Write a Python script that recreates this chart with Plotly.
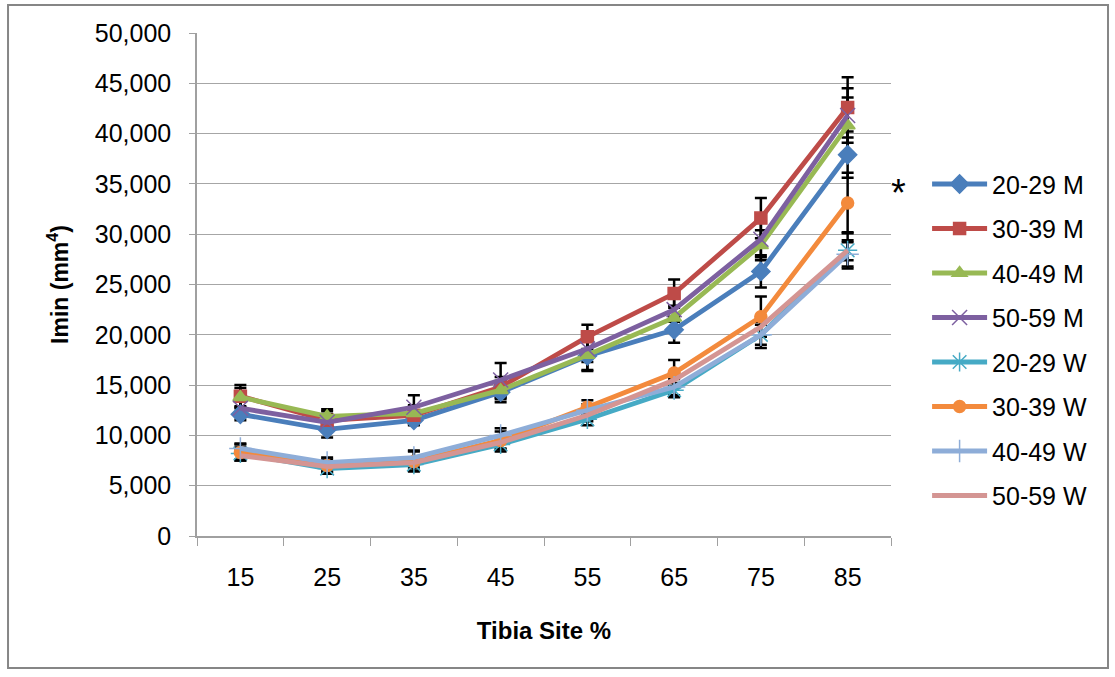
import plotly.graph_objects as go

# Tibia cross-section sites (% of tibia length)
sites = ["15", "25", "35", "45", "55", "65", "75", "85"]

# Imin (mm^4) by age group and sex
m_20_29 = [12100, 10600, 11500, 14300, 17900, 20500, 26300, 37900]
m_30_39 = [13900, 11500, 12000, 14800, 19800, 24100, 31600, 42600]
m_40_49 = [13800, 11900, 12200, 14500, 18000, 21700, 28900, 40800]
m_50_59 = [12700, 11300, 12800, 15500, 18600, 22500, 29500, 41800]
w_20_29 = [8200, 6700, 7100, 9100, 11600, 14500, 20000, 28400]
w_30_39 = [8300, 7000, 7400, 9500, 12800, 16200, 21800, 33100]
w_40_49 = [8700, 7300, 7800, 10000, 12500, 14800, 20000, 28000]
w_50_59 = [8000, 6900, 7300, 9300, 12000, 15500, 20800, 28400]

# Standard deviations shown as error bars
e_m_20_29 = [600, 800, 500, 1000, 1500, 1300, 1600, 2300]
e_m_30_39 = [1100, 900, 900, 1000, 1200, 1400, 2000, 3000]
e_m_40_49 = [900, 700, 800, 900, 1500, 1200, 1500, 2800]
e_m_50_59 = [900, 800, 1200, 1700, 1300, 1200, 1800, 2700]
e_w_20_29 = [600, 500, 600, 700, 600, 700, 1300, 1800]
e_w_30_39 = [800, 600, 1000, 900, 700, 1300, 2000, 3000]
e_w_40_49 = [500, 500, 700, 700, 600, 800, 1000, 1200]
e_w_50_59 = [500, 500, 500, 600, 600, 700, 1000, 1000]

names = ["20-29 M", "30-39 M", "40-49 M", "50-59 M",
         "20-29 W", "30-39 W", "40-49 W", "50-59 W"]
values = [m_20_29, m_30_39, m_40_49, m_50_59, w_20_29, w_30_39, w_40_49, w_50_59]
errors = [e_m_20_29, e_m_30_39, e_m_40_49, e_m_50_59,
          e_w_20_29, e_w_30_39, e_w_40_49, e_w_50_59]

colors = ["#4A7EBB", "#BE4B48", "#98B954", "#7D60A0",
          "#46AAC5", "#F38A3C", "#8EADD8", "#D49593"]
markers = [
    dict(symbol="diamond", size=14),
    dict(symbol="square", size=12),
    dict(symbol="triangle-up", size=13),
    dict(symbol="x-thin-open", size=15),
    dict(symbol="asterisk-open", size=16),
    dict(symbol="circle", size=12),
    dict(symbol="cross-thin-open", size=16),
    None,
]

FONT = "Liberation Sans, Arial, sans-serif"

fig = go.Figure()

# Error bars first so the series lines sit on top of them
for vals, errs in zip(values, errors):
    fig.add_trace(go.Scatter(
        x=sites, y=vals, mode="markers",
        marker=dict(size=1, color="rgba(0,0,0,0)"),
        error_y=dict(type="data", array=errs, visible=True,
                     color="#000000", thickness=2.5, width=6),
        showlegend=False, hoverinfo="skip",
    ))

for i, (name, vals, col, mk) in enumerate(zip(names, values, colors, markers)):
    if mk is None:
        mode = "lines"
        marker = None
    else:
        mode = "lines+markers"
        marker = dict(symbol=mk["symbol"], size=mk["size"], color=col,
                      line=dict(width=1.5, color=col))
    fig.add_trace(go.Scatter(
        x=sites, y=vals, name=name, mode=mode,
        line=dict(color=col, width=4.8),
        marker=marker,
        legendgroup=name,
    ))

fig.add_annotation(
    x=1.0, xref="paper", xanchor="left", xshift=-2,
    y=35000, yref="y", yanchor="middle", yshift=-9,
    text="*", showarrow=False,
    font=dict(family=FONT, size=38, color="#000000"),
)

# Outer chart border
fig.add_shape(
    type="rect", xref="paper", yref="paper",
    x0=-0.2723, x1=1.3127, y0=-0.2624, y1=1.0557,
    line=dict(color="#868686", width=2),
    fillcolor="rgba(0,0,0,0)", layer="below",
)

fig.update_layout(
    width=1115, height=677,
    margin=dict(l=197, r=224, t=33, b=141),
    paper_bgcolor="white", plot_bgcolor="white",
    font=dict(family=FONT, color="#000000"),
    showlegend=True,
    legend=dict(
        x=1.052, xanchor="left", y=0.745, yanchor="top",
        font=dict(family=FONT, size=25, color="#000000"),
        tracegroupgap=9, itemwidth=55,
        bgcolor="rgba(0,0,0,0)",
    ),
    xaxis=dict(
        type="category", categoryorder="array", categoryarray=sites,
        range=[-0.5, 7.5],
        showgrid=False, showline=True, linecolor="#A0A0A0", linewidth=1.5,
        ticks="outside", tickson="boundaries", ticklen=8, tickcolor="#A0A0A0",
        tickfont=dict(family=FONT, size=25, color="#000000"),
        ticklabelstandoff=18,
        title=dict(text="<b>Tibia Site %</b>", standoff=32,
                   font=dict(family=FONT, size=24, color="#000000")),
        zeroline=False, automargin=False,
    ),
    yaxis=dict(
        range=[0, 50000], dtick=5000, tickformat=",",
        showgrid=True, gridcolor="#A6A6A6", gridwidth=1.2,
        showline=True, linecolor="#A0A0A0", linewidth=1.5,
        ticks="outside", ticklen=6, tickcolor="#A0A0A0",
        tickfont=dict(family=FONT, size=25, color="#000000"),
        ticklabelstandoff=13,
        title=dict(text="<b>Imin (mm<sup>4</sup>)</b>", standoff=20,
                   font=dict(family=FONT, size=23, color="#000000")),
        zeroline=False, automargin=False,
    ),
)

fig.write_html("out.html")
